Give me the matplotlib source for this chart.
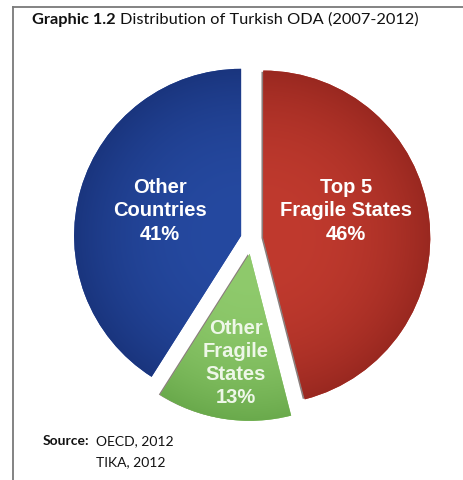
import numpy as np
import matplotlib
matplotlib.use("Agg")
import matplotlib.pyplot as plt
from matplotlib.colors import to_rgb
from matplotlib.lines import Line2D
from matplotlib.patches import Wedge

# Shares of Turkish ODA, 2007-2012 (percent)
categories = ["Top 5\nFragile States", "Other\nFragile\nStates", "Other\nCountries"]
shares = [46, 13, 41]
base_colors = ["#c03a2e", "#8fca6c", "#2549a0"]
rim_colors = ["#992820", "#6aaa4c", "#1a357e"]
explode = [0.068, 0.09, 0.068]
edge_shadow = [True, True, False]

W, H = 464, 481
fig = plt.figure(figsize=(W / 100, H / 100), dpi=100)
ax = fig.add_axes([0, 0, 1, 1])

cx, cy, R = 252, H - 240, 167

wedges, _ = ax.pie(shares, startangle=90, counterclock=False,
                   explode=[e * R for e in explode],
                   center=(cx, cy), radius=R, colors=base_colors,
                   wedgeprops=dict(linewidth=0), frame=True)
ax.set_xlim(0, W)
ax.set_ylim(0, H)
ax.set_aspect("equal")
ax.axis("off")

# shaded fill for each slice: lighter toward the centre, darker toward the rim
xs = np.linspace(cx - R * 1.3, cx + R * 1.3, 400)
ys = np.linspace(cy - R * 1.3, cy + R * 1.3, 400)
X, Y = np.meshgrid(xs, ys)
for w, c0, c1, sh in zip(wedges, base_colors, rim_colors, edge_shadow):
    ox, oy = w.center
    d = np.hypot(X - ox, Y - oy) / R
    t = np.clip(d, 0, 1) ** 2.5
    a = np.array(to_rgb(c0))
    b = np.array(to_rgb(c1))
    img = a[None, None, :] * (1 - t[..., None]) + b[None, None, :] * t[..., None]
    if sh:
        # thin dark shadow along the slice's left edge
        shadow = Wedge((ox - 1.8, oy - 0.4), R * 0.995, w.theta1, w.theta2,
                       facecolor="#2a1410", alpha=0.55, linewidth=0, zorder=0.5)
        ax.add_patch(shadow)
    im = ax.imshow(img, extent=(xs[0], xs[-1], ys[0], ys[-1]), origin="lower",
                   interpolation="bilinear", zorder=1)
    im.set_clip_path(w)
    w.set_zorder(0.8)

# slice labels
label_pos = [(346, H - 211), (236, H - 363), (160, H - 211)]
label_text = [f"{c}\n{s}%" for c, s in zip(categories, shares)]
label_col = ["white", "#eef7e8", "white"]
for (x, y), t, col in zip(label_pos, label_text, label_col):
    ax.text(x, y, t, ha="center", va="center", color=col, fontsize=14.5,
            fontweight="bold", family="Liberation Sans", linespacing=1.27, zorder=3)

# title: bold lead-in followed by the regular text
fig.canvas.draw()
renderer = fig.canvas.get_renderer()
lead = ax.text(32, H - 20, "Graphic 1.2", ha="left", va="center", fontsize=11.8,
               fontweight="bold", family="Lato", color="#111111")
bb = lead.get_window_extent(renderer=renderer)
ax.text(bb.x1 + 4, H - 20, "Distribution of Turkish ODA (2007-2012)", ha="left",
        va="center", fontsize=11.8, family="Lato", color="#111111")

# source note
ax.text(43, H - 441, "Source:", ha="left", va="center", fontsize=10,
        fontweight="bold", family="Lato", color="#111111")
ax.text(96, H - 441, "OECD, 2012", ha="left", va="center", fontsize=10,
        family="Lato", color="#111111")
ax.text(96, H - 462, "TIKA, 2012", ha="left", va="center", fontsize=10,
        family="Lato", color="#111111")

# frame lines (top and left)
ax.add_line(Line2D([13, W], [H - 8, H - 8], color="#7a7a7a", linewidth=1.3))
ax.add_line(Line2D([13, 13], [H - 8, 0], color="#7a7a7a", linewidth=1.3))

fig.savefig("out.png", dpi=100, facecolor="white")
